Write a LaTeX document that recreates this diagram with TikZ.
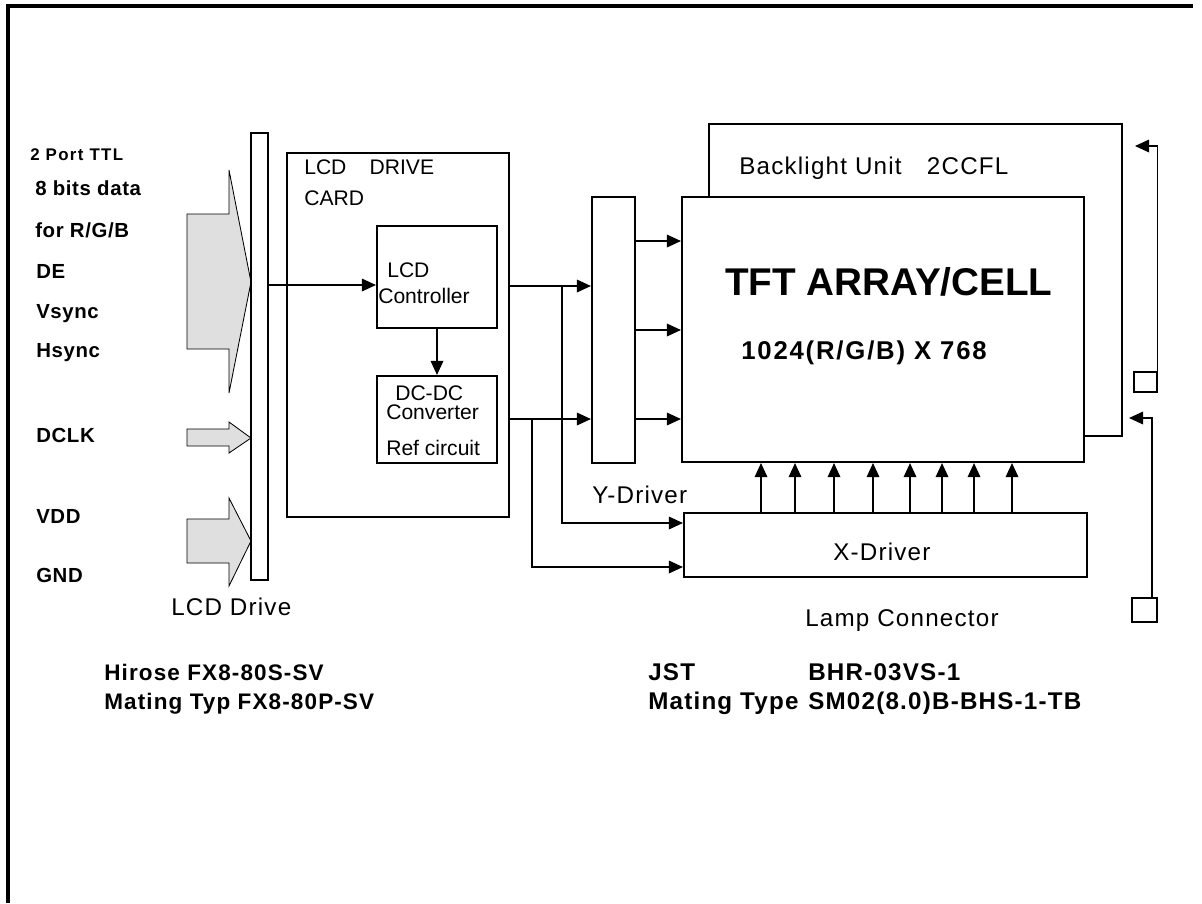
\documentclass[tikz,border=0pt]{standalone}
\usepackage{fontspec}
\setmainfont{Liberation Sans}
\newfontfamily\plainfont{Liberation Sans}
\newfontfamily\widefont[LetterSpace=5]{Liberation Sans}
\newfontfamily\sigfont[LetterSpace=3]{Liberation Sans}
\newfontfamily\partfont[LetterSpace=5]{Liberation Sans}
\newfontfamily\resfont[LetterSpace=7]{Liberation Sans}
\newfontfamily\tinyfont[LetterSpace=8]{Liberation Sans}
\usetikzlibrary{positioning,arrows.meta,fit,calc}

\tikzset{
  box/.style={draw, line width=1.5pt, inner sep=0pt},
  thinbox/.style={draw, line width=0.9pt, inner sep=0pt},
  lbl/.style={font=\plainfont\fontsize{15}{17}\selectfont, anchor=base west, inner sep=0pt},
  wlbl/.style={font=\widefont\fontsize{17.2}{19}\selectfont, anchor=base west, inner sep=0pt},
  sig/.style={font=\sigfont\bfseries\fontsize{14.5}{17}\selectfont, anchor=base west, inner sep=0pt},
  part/.style={font=\partfont\bfseries\fontsize{16}{18}\selectfont, anchor=base west, inner sep=0pt},
  lamppart/.style={part, font=\partfont\bfseries\fontsize{17.2}{19}\selectfont},
  wire/.style={line width=0.9pt},
  arr/.style={wire, -{Triangle[length=10pt,width=9pt]}},
  fatarrow/.style={draw, fill=gray!25, line width=0.6pt},
}

\begin{document}
\begin{tikzpicture}[x=0.025cm, y=-0.025cm]
\useasboundingbox (0,0) rectangle (1202,903);

% Frame
\draw[line width=2.2pt] (8,903) -- (8,6) -- (1193,6);

% Input signals
\node[sig, font=\tinyfont\bfseries\fontsize{12}{14}\selectfont] (ttl) at (30,160) {2 Port TTL};
\node[sig] (bits) at (35,195) {8 bits data};
\node[sig] (rgb) at (35,237) {for R/G/B};
\node[sig] (de) at (36,278) {DE};
\node[sig] (vs) at (36,318) {Vsync};
\node[sig] (hs) at (36,357) {Hsync};
\node[sig] (dclk) at (36,442) {DCLK};
\node[sig] (vdd) at (36,523) {VDD};
\node[sig] (gnd) at (36,582) {GND};

% Fat arrows
\draw[fatarrow] (187,214) -- (229,214) -- (229,170) -- (251,282) -- (229,393) -- (229,349) -- (187,349) -- cycle;
\draw[fatarrow] (187,429) -- (229,429) -- (229,422) -- (251,438) -- (229,453) -- (229,446) -- (187,446) -- cycle;
\draw[fatarrow] (187,519) -- (229,519) -- (229,498) -- (251,541) -- (229,586) -- (229,563) -- (187,563) -- cycle;

% Connector and drive card
\node[thinbox, fit={(251,133) (268,580)}] (bar) {};
\node[wlbl] (lcddrive) at (171,615) {LCD Drive};

\node[box, fit={(287,153) (509,517)}] (card) {};
\node[lbl] (cardtxt) at (304,174) {LCD\hspace{16.5pt}DRIVE};
\node[lbl] (cardtxt2) at (304,205) {CARD};

\node[box, fit={(377,226) (497,328)}] (ctrl) {};
\node[lbl] (ctrltxt) at (387,277) {LCD};
\node[lbl] (ctrltxt2) at (378,303) {Controller};

\node[box, fit={(377,376) (497,463)}] (dcdc) {};
\node[lbl] (dctxt) at (395,400) {DC-DC};
\node[lbl] (dctxt2) at (386,419) {Converter};
\node[lbl] (dctxt3) at (386,455) {Ref circuit};

\draw[arr] (bar.east |- 0,285) -- (ctrl.west |- 0,285);
\draw[arr] (ctrl.south) -- (dcdc.north);

% Drivers and panel
\node[box, fit={(592,197) (635,463)}] (ydrv) {};
\node[wlbl] (ytxt) at (592,503) {Y-Driver};

\node[box, fit={(682,197) (1084,462)}] (tft) {};
\node[anchor=base west, inner sep=0pt, font=\plainfont\bfseries\fontsize{27.5}{30}\selectfont] (tfttxt) at (725,295) {TFT ARRAY/CELL};
\node[anchor=base west, inner sep=0pt, font=\resfont\bfseries\fontsize{18.3}{21}\selectfont] (restxt) at (741,359) {1024(R/G/B) X 768};

\node[box, fit={(684,513) (1087,577)}] (xdrv) {};
\node[wlbl] (xtxt) at (833,560) {X-Driver};

% Backlight outline
\draw[wire] (tft.north -| 709,0) |- (1122,124) |- (tft.east |- 0,436);
\node[wlbl] (bltxt) at (739,174) {Backlight Unit\hspace{18pt}2CCFL};

% Signal lines
\draw[arr] (card.east |- 0,286) -- (ydrv.west |- 0,286);
\draw[arr] (card.east |- 0,419) -- (ydrv.west |- 0,419);
\draw[arr] (562,286) |- (xdrv.west |- 0,523);
\draw[arr] (532,419) |- (xdrv.west |- 0,567);
\foreach \yy in {241,330,419}
  \draw[arr] (ydrv.east |- 0,\yy) -- (tft.west |- 0,\yy);
\foreach \xx in {761,795,834,873,910,942,974,1012}
  \draw[arr] (xdrv.north -| \xx,0) -- (tft.south -| \xx,0);

% Lamp connectors
\node[thinbox, fit={(1134,372) (1157,392)}] (lampa) {};
\node[thinbox, fit={(1132,598) (1157,622)}] (lampb) {};
\coordinate (lampatip) at (1135,146);
\coordinate (lampbtip) at (1129,418);
\draw[arr] (lampa.north east) |- (lampatip);
\draw[arr] (lampb.north -| 1152,0) |- (lampbtip);
\node[wlbl] (lamptxt) at (805,626) {Lamp Connector};

% Part numbers
\node[part] (hir) at (104,680) {Hirose FX8-80S-SV};
\node[part] (hirm) at (104,709) {Mating Typ FX8-80P-SV};
\node[lamppart] (jst) at (648,680) {JST};
\node[lamppart] (bhr) at (808,680) {BHR-03VS-1};
\node[lamppart] (jstm) at (648,709) {Mating Type};
\node[lamppart] (sm) at (808,709) {SM02(8.0)B-BHS-1-TB};

\end{tikzpicture}
\end{document}
